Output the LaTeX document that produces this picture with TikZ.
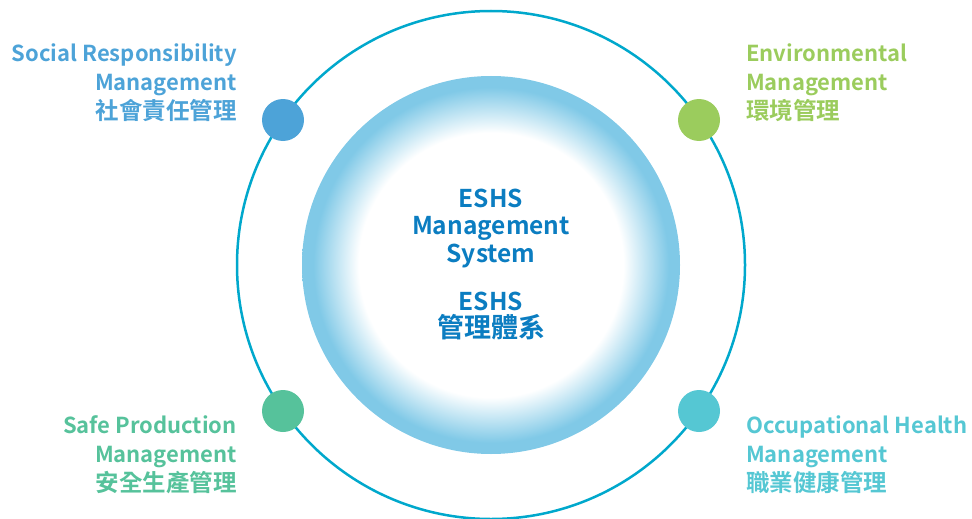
\documentclass[tikz,border=0pt]{standalone}
\usepackage{fontspec}
\setmainfont{Noto Sans CJK TC}[BoldFont={Noto Sans CJK TC Bold}]
\usetikzlibrary{positioning}
\definecolor{ringline}{HTML}{00A8CC}
\definecolor{glowblue}{HTML}{80C9E7}
\definecolor{coreblue}{HTML}{0B7DC1}
\definecolor{socialc}{HTML}{4DA3D8}
\definecolor{envc}{HTML}{9BCC5D}
\definecolor{safec}{HTML}{56C29B}
\definecolor{healthc}{HTML}{55C7D3}
\pgfdeclareradialshading{glow}{\pgfpoint{0bp}{0bp}}{color(0bp)=(white); color(17.5bp)=(white); color(23.5bp)=(glowblue); color(25bp)=(glowblue); color(50bp)=(glowblue)}
\newcommand\zhlab[1]{{\fontsize{23.5}{29}\selectfont #1}}
\newcommand\zhcore[1]{{\fontsize{27}{29}\selectfont #1}}
\tikzset{
  dot/.style={circle, inner sep=0pt, minimum size=42pt},
  lab/.style={font=\bfseries\fontsize{22}{29}\selectfont, inner sep=0pt},
  core/.style={font=\bfseries\fontsize{24.5}{27.5}\selectfont, text=coreblue, align=center, inner sep=0pt, anchor=base}
}
\begin{document}
\begin{tikzpicture}[x=1pt,y=-1pt]
\useasboundingbox (0,0) rectangle (972,519);
% rings
\node[circle, draw=ringline, line width=2.5pt, minimum size=508pt, inner sep=0pt] (ring) at (491,265) {};
\node[circle, shading=glow, minimum size=378pt, inner sep=0pt] (glow) at (491,265) {};
% centre text
\node[core] (core) at (491,262) {ESHS\\Management\\System};
\node[core] (corezh) at (491,337) {ESHS\\[-1pt]\zhcore{管理體系}};
% dots
\node[dot, fill=socialc] (d1) at (283,120) {};
\node[dot, fill=envc] (d2) at (699,120) {};
\node[dot, fill=safec] (d3) at (283,411) {};
\node[dot, fill=healthc] (d4) at (699,411) {};
% labels
\node[lab, text=socialc, align=right, anchor=base east] (social) at (237,119) {Social Responsibility\\Management\\\zhlab{社會責任管理}};
\node[lab, text=envc, align=left, anchor=base west] (env) at (746,119) {Environmental\\Management\\\zhlab{環境管理}};
\node[lab, text=safec, align=right, anchor=base east] (safe) at (237,491) {Safe Production\\Management\\\zhlab{安全生產管理}};
\node[lab, text=healthc, align=left, anchor=base west] (health) at (746,491) {Occupational Health\\Management\\\zhlab{職業健康管理}};
\end{tikzpicture}
\end{document}
